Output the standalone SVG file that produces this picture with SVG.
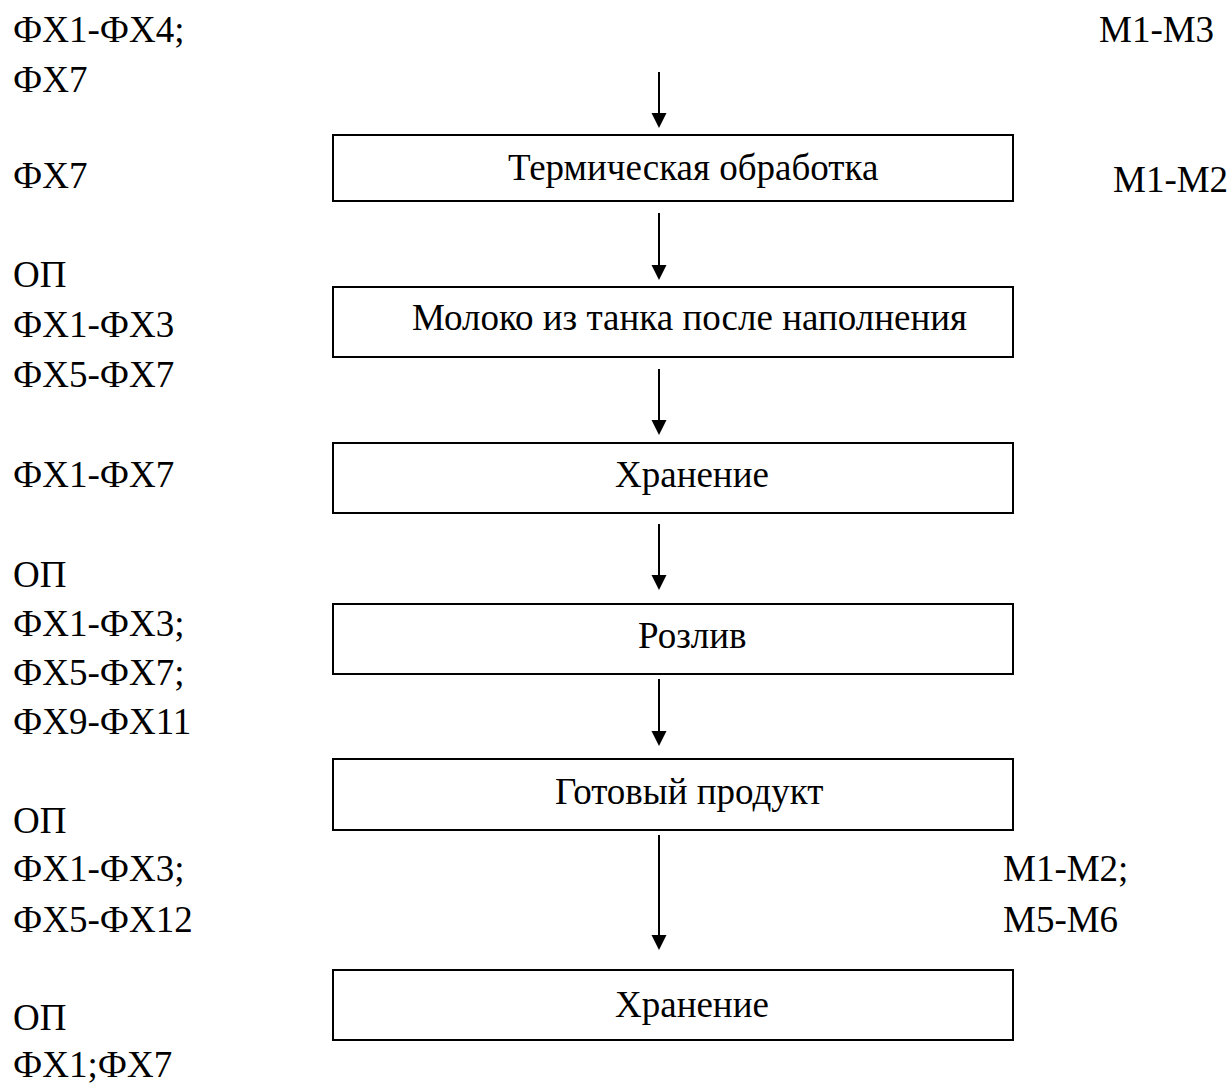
<svg xmlns="http://www.w3.org/2000/svg" width="1231" height="1084" viewBox="0 0 1231 1084">
<defs>
<style>
text{font-family:"Liberation Serif","Times New Roman",serif;font-size:37px;fill:#000}
.box{fill:#fff;stroke:#000;stroke-width:2}
.ln{stroke:#000;stroke-width:2;fill:none}
.ah{fill:#000}
</style>
</defs>
<rect width="1231" height="1084" fill="#fff"/>
<g id="connectors">
<path d="M659,72 V120" class="ln"/><path class="ah" d="M651.5,113 L666.5,113 L659,128 z"/>
<path d="M659,213 V272" class="ln"/><path class="ah" d="M651.5,265 L666.5,265 L659,280 z"/>
<path d="M659,369 V427" class="ln"/><path class="ah" d="M651.5,420 L666.5,420 L659,435 z"/>
<path d="M659,524 V582" class="ln"/><path class="ah" d="M651.5,575 L666.5,575 L659,590 z"/>
<path d="M659,679 V738" class="ln"/><path class="ah" d="M651.5,731 L666.5,731 L659,746 z"/>
<path d="M659,835 V942" class="ln"/><path class="ah" d="M651.5,935 L666.5,935 L659,950 z"/>
</g>
<g id="n1"><rect class="box" x="333" y="135" width="680" height="66"/><text x="508" y="180">Термическая обработка</text></g>
<g id="n2"><rect class="box" x="333" y="287" width="680" height="70"/><text x="412" y="330">Молоко из танка после наполнения</text></g>
<g id="n3"><rect class="box" x="333" y="443" width="680" height="70"/><text x="615" y="487">Хранение</text></g>
<g id="n4"><rect class="box" x="333" y="604" width="680" height="70"/><text x="638" y="648">Розлив</text></g>
<g id="n5"><rect class="box" x="333" y="759" width="680" height="71"/><text x="555" y="804">Готовый продукт</text></g>
<g id="n6"><rect class="box" x="333" y="970" width="680" height="70"/><text x="615" y="1017">Хранение</text></g>
<g id="left-labels">
<text x="13" y="42">ФХ1-ФХ4;</text>
<text x="13" y="92">ФХ7</text>
<text x="13" y="188">ФХ7</text>
<text x="13" y="287">ОП</text>
<text x="13" y="337">ФХ1-ФХ3</text>
<text x="13" y="387">ФХ5-ФХ7</text>
<text x="13" y="487">ФХ1-ФХ7</text>
<text x="13" y="587">ОП</text>
<text x="13" y="636">ФХ1-ФХ3;</text>
<text x="13" y="685">ФХ5-ФХ7;</text>
<text x="13" y="734">ФХ9-ФХ11</text>
<text x="13" y="833">ОП</text>
<text x="13" y="881">ФХ1-ФХ3;</text>
<text x="13" y="932">ФХ5-ФХ12</text>
<text x="13" y="1030">ОП</text>
<text x="13" y="1077">ФХ1;ФХ7</text>
</g>
<g id="right-labels">
<text x="1099" y="42">М1-М3</text>
<text x="1113" y="192">М1-М2</text>
<text x="1003" y="881">М1-М2;</text>
<text x="1003" y="932">М5-М6</text>
</g>
</svg>
